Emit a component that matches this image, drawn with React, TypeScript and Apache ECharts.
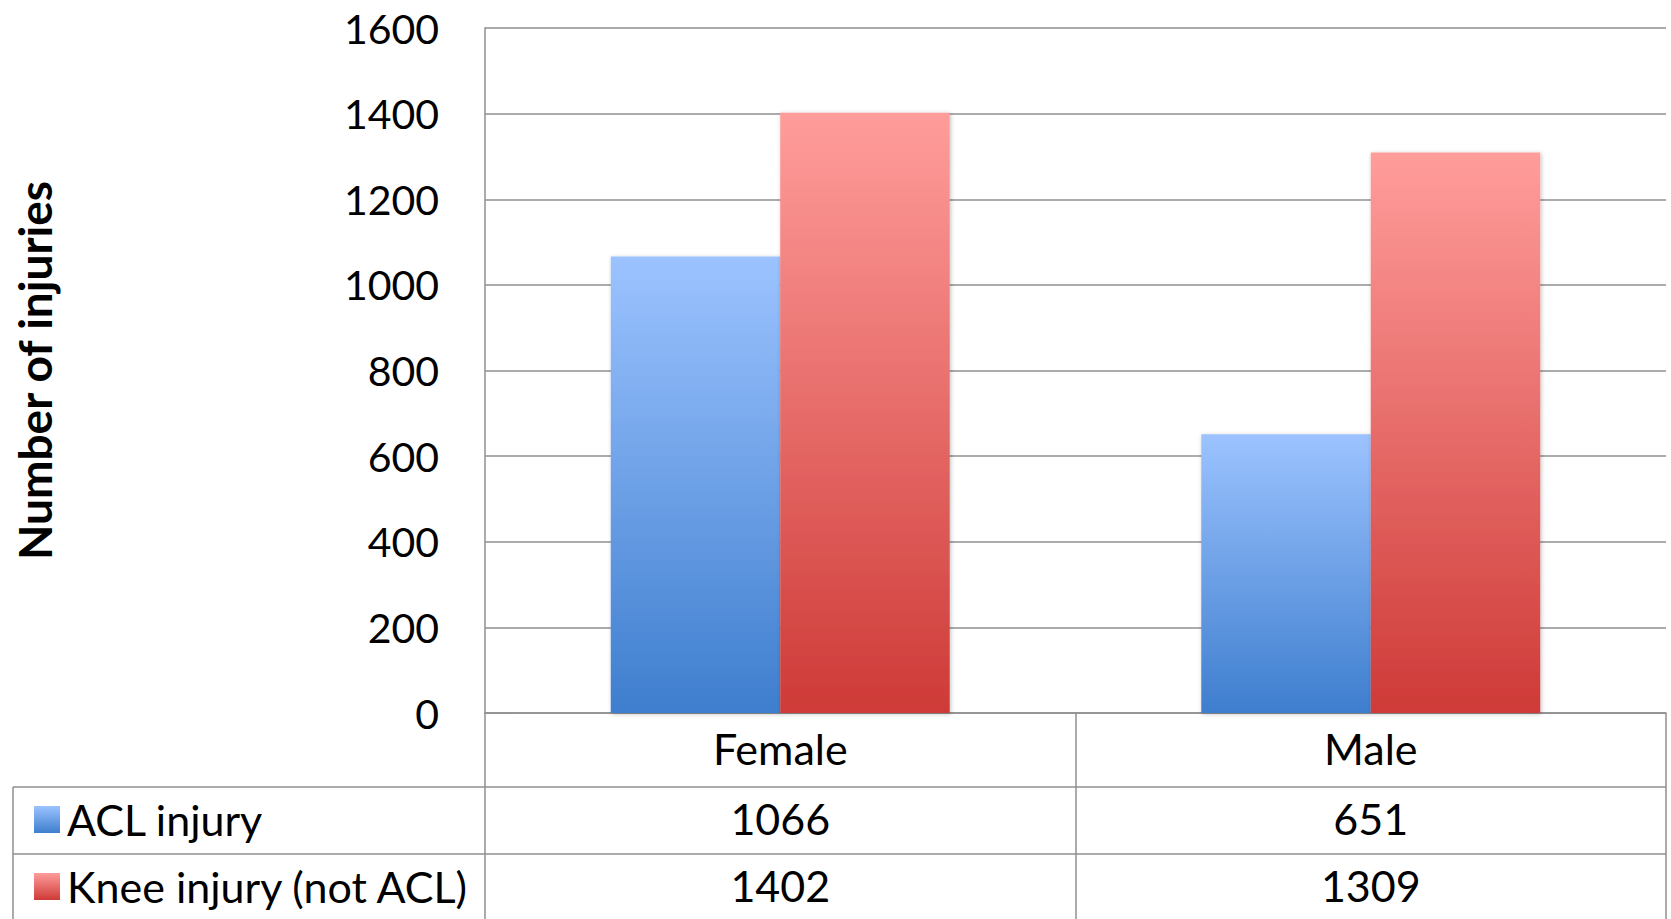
import React, { useEffect, useRef } from "react";
import * as echarts from "echarts";

const categories = ["Female", "Male"];
const seriesNames = ["ACL injury", "Knee injury (not ACL)"];
const aclInjury = [1066, 651];
const kneeInjury = [1402, 1309];
const yMin = 0;
const yMax = 1600;
const yInterval = 200;
const yAxisTitle = "Number of injuries";

const FONT = "Lato";
const GRID_LEFT = 485;
const GRID_RIGHT = 5;
const GRID_TOP = 28;
const GRID_BOTTOM = 206;
const CAT_ROW = 74;
const VAL_ROW = 67;
const TABLE_LEFT = 13;
const GRAY = "#8f8f8f";
const TEXT_SIZE = 43;

const blueGrad = () =>
  new echarts.graphic.LinearGradient(0, 0, 0, 1, [
    { offset: 0, color: "#9cc3ff" },
    { offset: 1, color: "#3e7ece" },
  ]);
const redGrad = () =>
  new echarts.graphic.LinearGradient(0, 0, 0, 1, [
    { offset: 0, color: "#ff9d9b" },
    { offset: 1, color: "#ce3a37" },
  ]);

export default function App() {
  const ref = useRef<HTMLDivElement>(null);
  useEffect(() => {
    if (!ref.current) return;
    const chart = echarts.init(ref.current, undefined, { renderer: "svg" });
    const W = 1671;
    const H = 919;
    const axisY = H - GRID_BOTTOM;
    const line1 = axisY + CAT_ROW;
    const line2 = line1 + VAL_ROW;
    const line3 = line2 + VAL_ROW;
    const gridRightX = W - GRID_RIGHT;
    const lineStyle = { stroke: GRAY, lineWidth: 1.5 };
    const legendLH = 44;

    chart.setOption({
      animation: false,
      backgroundColor: "#ffffff",
      grid: { left: GRID_LEFT, right: GRID_RIGHT, top: GRID_TOP, bottom: GRID_BOTTOM, containLabel: false },
      legend: {
        orient: "vertical",
        left: 29,
        top: line1 + (VAL_ROW - legendLH) / 2 - 6,
        itemWidth: 26,
        itemHeight: 27,
        itemGap: VAL_ROW - legendLH,
        icon: "rect",
        textStyle: { fontFamily: FONT, fontSize: TEXT_SIZE, color: "#000", lineHeight: legendLH, padding: [0, 0, 0, 2] },
        data: [
          { name: seriesNames[0], itemStyle: { color: blueGrad() } },
          { name: seriesNames[1], itemStyle: { color: redGrad() } },
        ],
      },
      xAxis: {
        type: "category",
        data: categories,
        axisLine: { show: true, lineStyle: { color: GRAY, width: 1.5 } },
        axisTick: { show: true, length: CAT_ROW + VAL_ROW * 2 + 5, lineStyle: { color: GRAY, width: 1.5 } },
        axisLabel: {
          margin: -2,
          interval: 0,
          formatter: (v: string, i: number) =>
            `{c|${v}}\n{v|${aclInjury[i]}}\n{v|${kneeInjury[i]}}`,
          rich: {
            c: { fontFamily: FONT, fontSize: TEXT_SIZE, color: "#000", lineHeight: CAT_ROW },
            v: { fontFamily: FONT, fontSize: TEXT_SIZE, color: "#000", lineHeight: VAL_ROW },
          },
        },
        splitLine: { show: false },
      },
      yAxis: {
        type: "value",
        min: yMin,
        max: yMax,
        interval: yInterval,
        name: yAxisTitle,
        nameLocation: "middle",
        nameGap: 428,
        nameTextStyle: { fontFamily: FONT, fontSize: 46, fontWeight: "bold", color: "#000" },
        axisLine: { show: true, lineStyle: { color: GRAY, width: 1.5 } },
        axisTick: { show: false },
        axisLabel: {
          margin: 46,
          fontFamily: FONT,
          fontSize: 41,
          color: "#000",
          formatter: (v: number) => String(v),
        },
        splitLine: { show: true, lineStyle: { color: GRAY, width: 1.5 } },
      },
      series: [
        {
          name: seriesNames[0],
          type: "bar",
          data: aclInjury,
          barGap: "0%",
          barCategoryGap: "42.6%",
          itemStyle: {
            color: blueGrad(),
            shadowBlur: 4,
            shadowColor: "rgba(0,0,0,0.25)",
            shadowOffsetX: 1,
            shadowOffsetY: 1,
          },
        },
        {
          name: seriesNames[1],
          type: "bar",
          data: kneeInjury,
          barGap: "0%",
          barCategoryGap: "42.6%",
          itemStyle: {
            color: redGrad(),
            shadowBlur: 4,
            shadowColor: "rgba(0,0,0,0.25)",
            shadowOffsetX: 1,
            shadowOffsetY: 1,
          },
        },
      ],
      graphic: [
        { type: "line", shape: { x1: TABLE_LEFT, y1: line1, x2: gridRightX, y2: line1 }, style: lineStyle, silent: true },
        { type: "line", shape: { x1: TABLE_LEFT, y1: line2, x2: gridRightX, y2: line2 }, style: lineStyle, silent: true },
        { type: "line", shape: { x1: TABLE_LEFT, y1: line3, x2: gridRightX, y2: line3 }, style: lineStyle, silent: true },
        { type: "line", shape: { x1: TABLE_LEFT, y1: line1, x2: TABLE_LEFT, y2: line3 }, style: lineStyle, silent: true },
      ],
    });
    return () => chart.dispose();
  }, []);
  return (
    <div
      ref={ref}
      style={{ position: "fixed", left: 0, top: 0, width: 1671, height: 919, background: "#fff" }}
    />
  );
}
